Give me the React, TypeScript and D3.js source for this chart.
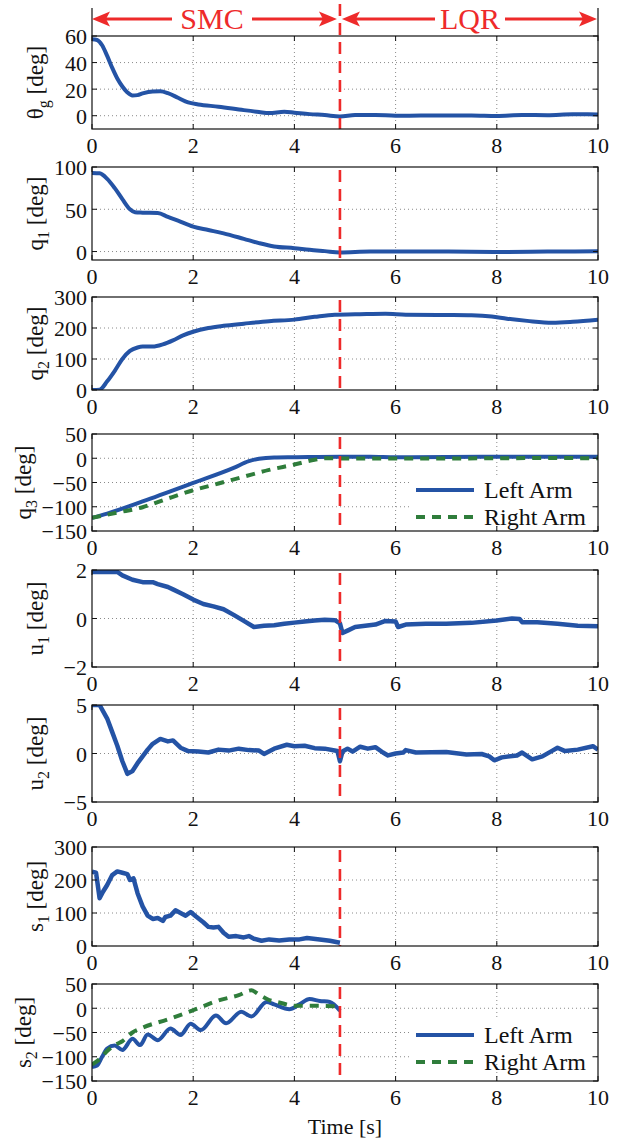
import React, { useEffect, useRef } from 'react'
import * as d3 from 'd3'

// time axis
const timeTicks = [0, 2, 4, 6, 8, 10]
const switchTime = 4.9

// series, [time s, value deg]
const thetaG: [number, number][] = [
  [0, 57.5], [0.1, 57], [0.2, 53], [0.3, 45], [0.4, 36], [0.5, 28], [0.6, 22], [0.7, 17.5],
  [0.8, 15.2], [0.9, 15.5], [1.0, 16.8], [1.2, 18.3], [1.35, 18.4], [1.5, 17], [1.7, 13.5],
  [1.9, 10], [2.1, 8.5], [2.5, 6.8], [3.0, 4.2], [3.3, 2.8], [3.5, 2], [3.8, 3], [4.0, 2.3],
  [4.3, 1.2], [4.6, 0.5], [4.9, -0.5], [5.2, 0.5], [5.6, 0.6], [6, 0], [6.5, 0.1], [7, 0.2],
  [7.5, 0.2], [8, -0.2], [8.5, 0.5], [9, 0.4], [9.5, 1.1], [10, 1],
]
const q1: [number, number][] = [
  [0, 93], [0.15, 92.5], [0.3, 86], [0.45, 75], [0.6, 62], [0.75, 50], [0.85, 46.5], [1.0, 46],
  [1.3, 45.5], [1.5, 41], [1.7, 36.5], [2.0, 29.5], [2.3, 25.5], [2.6, 21.5], [3.0, 15],
  [3.3, 10], [3.6, 6], [4.0, 4], [4.3, 2], [4.6, 0.5], [4.9, -1], [5.5, 0], [6, 0], [7, 0],
  [8, -0.5], [9, 0], [10, 0.3],
]
const q2: [number, number][] = [
  [0, 0], [0.15, 1], [0.3, 28], [0.45, 62], [0.6, 100], [0.75, 126], [0.9, 137], [1.0, 140],
  [1.2, 140], [1.4, 147], [1.6, 160], [1.8, 176], [2.0, 188], [2.3, 200], [2.6, 207], [3.0, 214],
  [3.5, 222], [4.0, 227], [4.4, 236], [4.8, 243], [5.2, 244], [5.8, 246], [6.2, 243], [7, 242],
  [7.5, 241], [7.9, 237], [8.2, 230], [8.6, 223], [9.1, 217], [9.5, 220], [10, 227],
]
const q3Left: [number, number][] = [
  [0, -123], [0.3, -114], [1, -89], [2, -51], [2.8, -20], [3.1, -6], [3.3, -1], [3.6, 1.5],
  [4, 2], [4.9, 3], [5.5, 3], [6, 2], [7, 2.5], [8, 3], [9, 3], [10, 3],
]
const q3Right: [number, number][] = [
  [0, -123], [0.5, -112], [1, -101], [1.5, -83], [2, -66], [2.5, -52], [3, -38], [3.5, -24],
  [4, -13], [4.4, -3], [4.6, 0], [5, -0.5], [6, -0.5], [7, -0.5], [8, 0], [9, 0.5], [10, 0],
]
const u1: [number, number][] = [
  [0, 1.92], [0.5, 1.92], [0.6, 1.78], [0.8, 1.6], [1.0, 1.5], [1.2, 1.5], [1.3, 1.42], [1.5, 1.3],
  [1.6, 1.2], [1.8, 1.0], [2.0, 0.78], [2.2, 0.6], [2.4, 0.5], [2.6, 0.38], [2.8, 0.15], [3.0, -0.1],
  [3.2, -0.35], [3.4, -0.3], [3.6, -0.28], [3.8, -0.22], [4.0, -0.17], [4.2, -0.12], [4.4, -0.08],
  [4.6, -0.05], [4.8, -0.07], [4.9, -0.2], [4.95, -0.6], [5.05, -0.5], [5.2, -0.35], [5.4, -0.3],
  [5.6, -0.25], [5.8, -0.1], [6.0, -0.12], [6.05, -0.35], [6.2, -0.25], [6.6, -0.22], [7.0, -0.22],
  [7.5, -0.18], [8.0, -0.08], [8.3, 0], [8.45, -0.02], [8.5, -0.15], [8.8, -0.15], [9.2, -0.22],
  [9.6, -0.3], [10, -0.32],
]
const u2: [number, number][] = [
  [0, 5], [0.15, 5], [0.3, 3.6], [0.4, 2.2], [0.5, 0.8], [0.6, -0.8], [0.7, -2.1], [0.8, -1.8],
  [0.9, -1.0], [1.0, -0.3], [1.1, 0.4], [1.2, 1.0], [1.35, 1.5], [1.5, 1.25], [1.6, 1.35],
  [1.75, 0.6], [1.9, 0.25], [2.1, 0.2], [2.3, 0.1], [2.5, 0.4], [2.7, 0.3], [2.9, 0.5], [3.1, 0.35],
  [3.3, 0.3], [3.4, -0.05], [3.6, 0.5], [3.85, 0.9], [4.0, 0.75], [4.2, 0.8], [4.4, 0.55],
  [4.6, 0.5], [4.85, 0.25], [4.9, -0.8], [4.95, 0.2], [5.05, 0.5], [5.15, 0.2], [5.3, 0.7],
  [5.45, 0.5], [5.6, 0.65], [5.75, 0.1], [5.85, -0.2], [6.0, 0], [6.15, 0.1], [6.2, 0.35],
  [6.4, 0.1], [7, 0.15], [7.4, -0.1], [7.7, -0.05], [7.85, -0.3], [7.95, -0.7], [8.1, -0.4],
  [8.4, -0.2], [8.5, 0.1], [8.7, -0.6], [8.9, -0.3], [9.1, 0.3], [9.2, 0.6], [9.35, 0.25],
  [9.6, 0.4], [9.9, 0.75], [10, 0.4],
]
const s1: [number, number][] = [
  [0, 225], [0.08, 222], [0.15, 145], [0.22, 165], [0.3, 185], [0.4, 215], [0.5, 226], [0.6, 222],
  [0.7, 218], [0.75, 200], [0.82, 205], [0.9, 160], [1.0, 120], [1.1, 92], [1.2, 82], [1.3, 85],
  [1.4, 76], [1.45, 88], [1.55, 92], [1.65, 108], [1.75, 100], [1.85, 92], [1.95, 103], [2.05, 90],
  [2.2, 72], [2.3, 58], [2.4, 56], [2.5, 58], [2.6, 40], [2.7, 28], [2.85, 30], [3.0, 26],
  [3.1, 30], [3.2, 22], [3.35, 16], [3.5, 20], [3.7, 17], [3.9, 20], [4.1, 20], [4.25, 24],
  [4.5, 20], [4.7, 16], [4.9, 10],
]
const s2Left: [number, number][] = [
  [0, -121], [0.1, -118], [0.2, -100], [0.3, -83], [0.45, -77], [0.6, -86], [0.8, -63],
  [0.95, -76], [1.1, -54], [1.3, -66], [1.55, -42], [1.75, -55], [1.95, -32], [2.15, -45],
  [2.45, -15], [2.65, -31], [2.95, -7], [3.15, -17], [3.45, 13], [3.6, 8], [3.9, -2], [4.1, 8],
  [4.3, 19], [4.5, 15], [4.7, 13], [4.9, -5],
]
const s2Right: [number, number][] = [
  [0, -116], [0.15, -105], [0.3, -88], [0.45, -76], [0.6, -68], [0.8, -50], [1.0, -40],
  [1.5, -23], [2.0, -4], [2.5, 16], [2.9, 27], [3.15, 37], [3.3, 28], [3.5, 17], [3.7, 12],
  [4.0, 5], [4.4, 5], [4.9, 4],
]

const legendNames = ['Left Arm', 'Right Arm']

const BLUE = '#2453a5'
const GREEN = '#2f7d3b'
const RED = '#ee2a2a'
const FONT = 'Liberation Serif, Times New Roman, serif'

type Series = { data: [number, number][]; color: string; dash?: string; smooth: boolean }
type Panel = {
  sym: string; sub: string; domain: [number, number]; ticks: number[]
  top: number; bottom: number; series: Series[]; legendY?: number
}

const panels: Panel[] = [
  { sym: 'θ', sub: 'g', domain: [-10, 60], ticks: [0, 20, 40, 60], top: 36, bottom: 129,
    series: [{ data: thetaG, color: BLUE, smooth: true }] },
  { sym: 'q', sub: '1', domain: [-10, 100], ticks: [0, 50, 100], top: 167, bottom: 260,
    series: [{ data: q1, color: BLUE, smooth: true }] },
  { sym: 'q', sub: '2', domain: [0, 300], ticks: [0, 100, 200, 300], top: 297, bottom: 390,
    series: [{ data: q2, color: BLUE, smooth: true }] },
  { sym: 'q', sub: '3', domain: [-150, 50], ticks: [-150, -100, -50, 0, 50], top: 434, bottom: 531,
    series: [{ data: q3Left, color: BLUE, smooth: true }, { data: q3Right, color: GREEN, dash: '9,7', smooth: true }],
    legendY: 490 },
  { sym: 'u', sub: '1', domain: [-2, 2], ticks: [-2, 0, 2], top: 570, bottom: 667,
    series: [{ data: u1, color: BLUE, smooth: false }] },
  { sym: 'u', sub: '2', domain: [-5, 5], ticks: [-5, 0, 5], top: 705, bottom: 802,
    series: [{ data: u2, color: BLUE, smooth: false }] },
  { sym: 's', sub: '1', domain: [0, 300], ticks: [0, 100, 200, 300], top: 847, bottom: 946,
    series: [{ data: s1, color: BLUE, smooth: false }] },
  { sym: 's', sub: '2', domain: [-150, 50], ticks: [-150, -100, -50, 0, 50], top: 984, bottom: 1081,
    series: [{ data: s2Left, color: BLUE, smooth: true }, { data: s2Right, color: GREEN, dash: '9,7', smooth: true }],
    legendY: 1035 },
]

const fmt = (v: number) => String(v).replace('-', '\u2212')

const App = () => {
  const ref = useRef<SVGSVGElement>(null)

  useEffect(() => {
    document.body.style.margin = '0'
    const svg = d3.select(ref.current)
    svg.selectAll('*').remove()

    const x = d3.scaleLinear().domain([0, 10]).range([92, 598])

    panels.forEach((p, i) => {
      const y = d3.scaleLinear().domain(p.domain).range([p.bottom, p.top])
      const g = svg.append('g')

      g.append('clipPath').attr('id', `clip${i}`)
        .append('rect').attr('x', 92).attr('y', p.top).attr('width', 506).attr('height', p.bottom - p.top)

      // grid
      timeTicks.slice(1, -1).forEach(t => {
        g.append('line').attr('x1', x(t)).attr('x2', x(t)).attr('y1', p.top).attr('y2', p.bottom)
          .attr('stroke', '#8a8a8a').attr('stroke-width', 1).attr('stroke-dasharray', '1,3')
      })
      p.ticks.filter(v => v !== p.domain[0] && v !== p.domain[1]).forEach(v => {
        g.append('line').attr('x1', 92).attr('x2', 598).attr('y1', y(v)).attr('y2', y(v))
          .attr('stroke', '#8a8a8a').attr('stroke-width', 1).attr('stroke-dasharray', '1,3')
      })

      // data
      const plot = g.append('g').attr('clip-path', `url(#clip${i})`)
      p.series.forEach(s => {
        const line = d3.line<[number, number]>()
          .x(d => x(d[0])).y(d => y(d[1]))
          .curve(s.smooth ? d3.curveMonotoneX : d3.curveLinear)
        plot.append('path').attr('d', line(s.data))
          .attr('fill', 'none').attr('stroke', s.color).attr('stroke-width', s.smooth ? 4 : 4.5)
          .attr('stroke-linejoin', 'round')
          .attr('stroke-dasharray', s.dash || null)
      })

      // switch instant
      g.append('line').attr('x1', x(switchTime)).attr('x2', x(switchTime))
        .attr('y1', i === 0 ? 4 : p.top + 3).attr('y2', p.bottom)
        .attr('stroke', RED).attr('stroke-width', 2.6).attr('stroke-dasharray', '12,7')

      // legend
      if (p.legendY !== undefined) {
        const ly = p.legendY
        g.append('rect').attr('x', 411).attr('y', ly - 15).attr('width', 180).attr('height', 44).attr('fill', '#fff')
        p.series.forEach((s, k) => {
          const yy = ly + k * 27
          g.append('line').attr('x1', 416).attr('x2', 474).attr('y1', yy).attr('y2', yy)
            .attr('stroke', s.color).attr('stroke-width', 4).attr('stroke-dasharray', s.dash || null)
          g.append('text').attr('x', 484).attr('y', yy + 8).attr('font-family', FONT)
            .attr('font-size', 24).attr('fill', '#111').text(legendNames[k])
        })
      }

      // frame and ticks
      g.append('rect').attr('x', 92).attr('y', p.top).attr('width', 506).attr('height', p.bottom - p.top)
        .attr('fill', 'none').attr('stroke', '#111').attr('stroke-width', 1.2)
      timeTicks.forEach(t => {
        g.append('line').attr('x1', x(t)).attr('x2', x(t)).attr('y1', p.bottom).attr('y2', p.bottom - 5).attr('stroke', '#111')
        g.append('line').attr('x1', x(t)).attr('x2', x(t)).attr('y1', p.top).attr('y2', p.top + 5).attr('stroke', '#111')
        g.append('text').attr('x', x(t)).attr('y', p.bottom + 24).attr('text-anchor', 'middle')
          .attr('font-family', FONT).attr('font-size', 22).attr('fill', '#111').text(fmt(t))
      })
      let minX = 87
      p.ticks.forEach(v => {
        g.append('line').attr('x1', 92).attr('x2', 97).attr('y1', y(v)).attr('y2', y(v)).attr('stroke', '#111')
        g.append('line').attr('x1', 598).attr('x2', 593).attr('y1', y(v)).attr('y2', y(v)).attr('stroke', '#111')
        const t = g.append('text').attr('x', 87).attr('y', y(v)).attr('dy', '0.38em').attr('text-anchor', 'end')
          .attr('font-family', FONT).attr('font-size', 22).attr('fill', '#111').text(fmt(v))
        const node = t.node() as SVGTextElement
        minX = Math.min(minX, node.getBBox().x)
      })

      // y label, pushed left of the widest tick label
      const cy = (p.top + p.bottom) / 2
      const lx = Math.min(43, minX - 11)
      const lab = g.append('text').attr('transform', `translate(${lx},${cy}) rotate(-90)`)
        .attr('text-anchor', 'middle').attr('font-family', FONT).attr('font-size', 23).attr('fill', '#111')
      lab.append('tspan').text(p.sym)
      lab.append('tspan').attr('dy', 6).attr('font-size', 16).text(p.sub)
      lab.append('tspan').attr('dy', -6).text('\u00a0[deg]')
    })

    // SMC / LQR annotation above first panel
    const top = panels[0].top
    svg.append('line').attr('x1', 92).attr('x2', 92).attr('y1', 8).attr('y2', top).attr('stroke', '#111').attr('stroke-width', 1.2)
    svg.append('line').attr('x1', 598).attr('x2', 598).attr('y1', 8).attr('y2', top).attr('stroke', '#111').attr('stroke-width', 1.2)

    const ay = 19
    const head = (tip: number, dir: number) => {
      const p = d3.path()
      p.moveTo(tip, ay)
      p.lineTo(tip + dir * 18, ay - 7.5)
      p.lineTo(tip + dir * 14, ay)
      p.lineTo(tip + dir * 18, ay + 7.5)
      p.closePath()
      svg.append('path').attr('d', p.toString()).attr('fill', RED)
    }
    const seg = (a: number, b: number) => {
      svg.append('line').attr('x1', a).attr('x2', b).attr('y1', ay).attr('y2', ay).attr('stroke', RED).attr('stroke-width', 3)
    }
    const xs = x(switchTime)
    seg(x(0) + 12, 172); seg(252, xs - 16)
    seg(xs + 16, 435); seg(505, x(10) - 12)
    head(x(0), 1); head(xs - 3, -1); head(xs + 2, 1); head(x(10) - 1, -1)
    svg.append('text').attr('x', 212).attr('y', 29).attr('text-anchor', 'middle').attr('font-family', FONT)
      .attr('font-size', 30).attr('fill', RED).text('SMC')
    svg.append('text').attr('x', 470).attr('y', 29).attr('text-anchor', 'middle').attr('font-family', FONT)
      .attr('font-size', 30).attr('fill', RED).text('LQR')

    svg.append('text').attr('x', 345).attr('y', 1134).attr('text-anchor', 'middle').attr('font-family', FONT)
      .attr('font-size', 22).attr('fill', '#111').text('Time [s]')
  }, [])

  return (
    <svg ref={ref} width={630} height={1140}
      style={{ display: 'block', position: 'absolute', left: 0, top: 0, background: '#fff' }} />
  )
}

export default App
